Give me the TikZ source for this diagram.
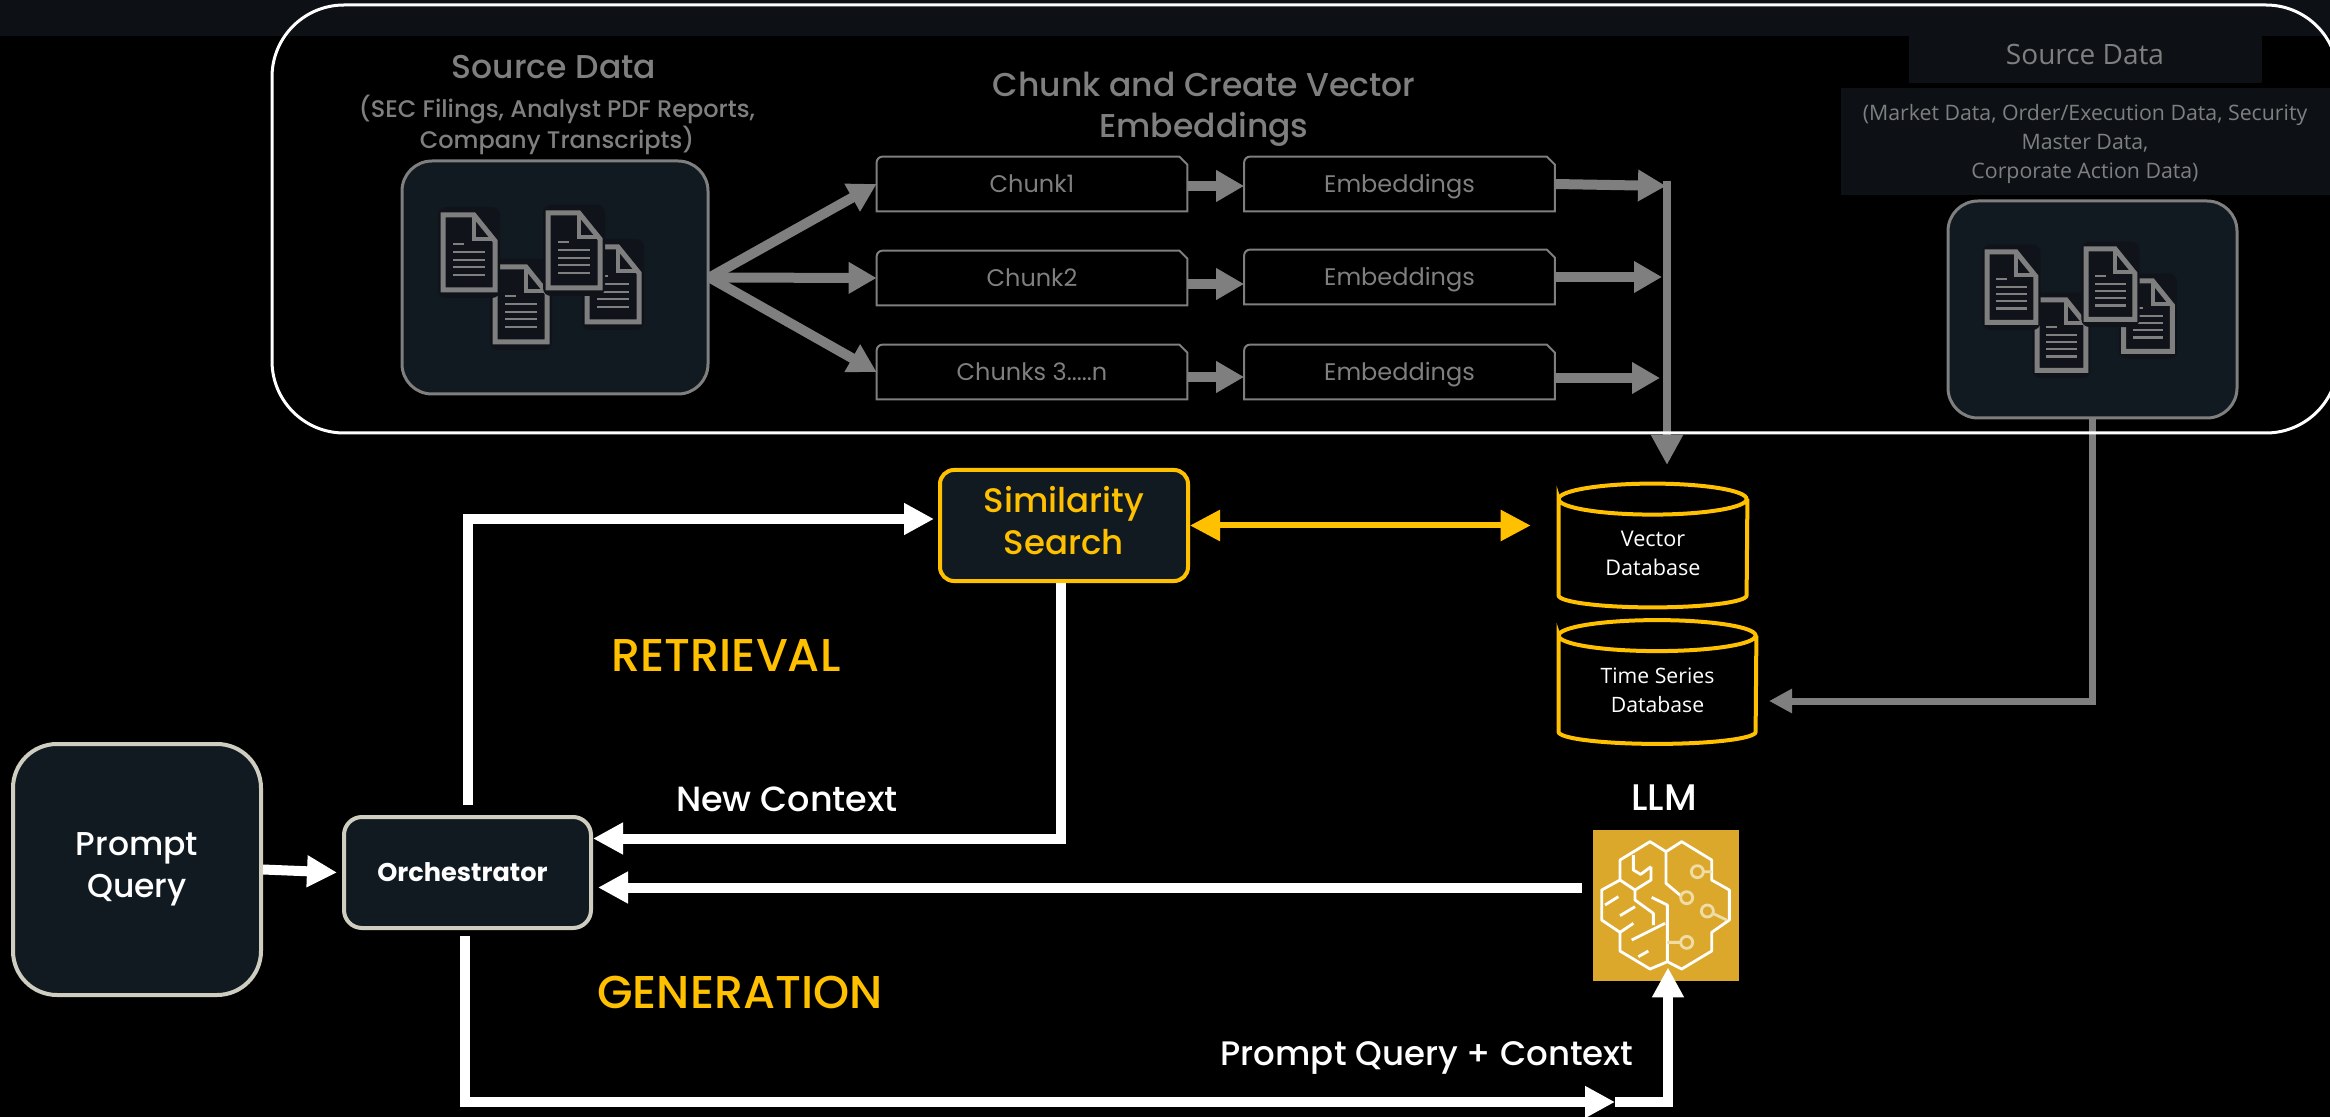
\documentclass[tikz,border=0pt]{standalone}
\usepackage{fontspec}
\setmainfont{Poppins}
\newfontfamily\medfont{Poppins Medium}
\newfontfamily\opensans{Open Sans}
\usetikzlibrary{arrows.meta}
\definecolor{strip}{HTML}{0D1116}
\definecolor{panel}{HTML}{111A21}
\definecolor{backing}{HTML}{10141A}
\definecolor{muted}{HTML}{7F7F7F}
\definecolor{gold}{HTML}{FFC000}
\definecolor{frame}{HTML}{CFCDBF}
\definecolor{brain}{HTML}{DCA82C}
\definecolor{pale}{HTML}{EFDCA6}
\tikzset{%
	softbox/.style   = {draw, rectangle, fill=panel, inner sep=0pt, align=center},
	sourcebox/.style = {softbox, draw=muted, line width=1.5pt},
	userbox/.style   = {softbox, draw=frame, line width=2pt, text=white},
	chunkbox/.style  = {rectangle, minimum width=155pt, minimum height=27pt, inner sep=0pt, text=muted,
		text height=9pt, text depth=0pt, font=\fontsize{12}{15}\selectfont,
		append after command={\pgfextra{
			\draw[muted, line width=1pt] (\tikzlastnode.south west) [rounded corners=3pt] -- (\tikzlastnode.north west)
				[sharp corners] -- ([xshift=-4pt]\tikzlastnode.north east)
				-- ([yshift=-4pt]\tikzlastnode.north east) -- (\tikzlastnode.south east) -- cycle;}}},
	dbase/.style     = {rectangle, minimum width={2*#1}, minimum height=61.5pt, inner sep=0pt,
		append after command={\pgfextra{
			\draw[gold, line width=2pt] ([yshift=-7.75pt]\tikzlastnode.north west) arc[start angle=180, end angle=-180, x radius=#1, y radius=7.75pt]
				-- ([yshift=6pt]\tikzlastnode.south west) arc[start angle=180, end angle=360, x radius=#1, y radius=6pt]
				-- ([yshift=-7.75pt]\tikzlastnode.north east);}}},
	greyarrow/.style = {draw=muted, line width=5pt, -{Triangle[width=15pt,length=14pt]}},
	whitearrow/.style= {draw=white, line width=5pt, -{Triangle[width=15pt,length=15pt]}},
	label/.style     = {align=center, inner sep=0pt},
	docicon/.pic     = {
		\fill[backing, rounded corners=4pt] (-5,-8) rectangle (57,83);
		\draw[muted, line width=2.5pt] (0,0) -- (31,0) -- (52,26) -- (52,75) -- (0,75) -- cycle;
		\draw[muted, line width=2pt] (31,0) -- (31,24) -- (52,24);
		\draw[muted, line width=1.2pt] (10,29) -- (21,29) (10,37) -- (42,37) (10,45) -- (42,45) (10,52) -- (42,52) (10,60) -- (42,60);
	}
}

\begin{document}
\begin{tikzpicture}[x=0.5pt,y=-0.5pt]
	\useasboundingbox (0,0) rectangle (2330,1117);
	\clip (0,0) rectangle (2330,1117);
	\fill[black] (0,0) rectangle (2330,1117);
	\fill[strip] (0,0) rectangle (2330,36);
	\fill[strip] (1909,36) rectangle (2262,83);
	\fill[strip] (1841,88) rectangle (2330,195);

	% top row
	\node[label, text=muted, font=\medfont\fontsize{16.5}{20}\selectfont] (srctitle) at (554,67) {Source Data};
	\node[label, text=muted, font=\medfont\fontsize{12}{13.5}\selectfont] (srctext) at (557,125) {(SEC Filings, Analyst PDF Reports,\\Company Transcripts)};
	\node[label, text=muted, font=\medfont\fontsize{16.5}{20.5}\selectfont] (chunktitle) at (1204,109) {Chunk and Create Vector\\Embeddings};
	\node[label, text=muted, font=\opensans\fontsize{14}{14}\selectfont] (marktitle) at (2085,55) {Source Data};
	\node[label, text=muted, font=\opensans\fontsize{10.65}{14.35}\selectfont] (marktext) at (2085,144) {(Market Data, Order/Execution Data, Security\\Master Data,\\Corporate Action Data)};

	\node[sourcebox, rounded corners=15pt, minimum width=153pt, minimum height=116.5pt] (source) at (555,277.5) {};
	\pic at (587,247) {docicon};
	\pic at (495,267) {docicon};
	\pic at (443,215) {docicon};
	\pic at (548,213) {docicon};

	\node[sourcebox, rounded corners=15pt, minimum width=144.5pt, minimum height=108.5pt] (market) at (2092.5,309.5) {};
	\pic[scale=0.94] at (2123.5,281) {docicon};
	\pic[scale=0.94] at (2037,300) {docicon};
	\pic[scale=0.94] at (1987,252) {docicon};
	\pic[scale=0.94] at (2086,249) {docicon};

	\node[chunkbox] (chunkone) at (1032,184) {Chunk1};
	\node[chunkbox] (chunktwo) at (1032,278) {Chunk2};
	\node[chunkbox] (chunkthree) at (1032,372) {Chunks 3.....n};
	\node[chunkbox] (embedone) at (1399.5,184) {Embeddings};
	\node[chunkbox] (embedtwo) at (1399.5,277) {Embeddings};
	\node[chunkbox] (embedthree) at (1399.5,372) {Embeddings};

	\draw[greyarrow] (source.east) -- (chunkone.west);
	\draw[greyarrow] (source.east) -- (chunktwo.west);
	\draw[greyarrow] (source.east) -- (chunkthree.west);
	\draw[greyarrow] ([yshift=-1pt]chunkone.east) -- ([yshift=-1pt]embedone.west);
	\draw[greyarrow] ([yshift=-3pt]chunktwo.east) -- ([yshift=-3pt]chunktwo.east -| embedtwo.west);
	\draw[greyarrow] ([yshift=-2.5pt]chunkthree.east) -- ([yshift=-2.5pt]embedthree.west);

	\node[dbase=47pt] (vectordb) at (1653,545.5) {};
	\node[dbase=49.25pt] (timedb) at (1657.5,682) {};
	\node[label, text=white, font=\opensans\fontsize{10.8}{14.5}\selectfont] (vectortext) at (1653,553) {Vector\\Database};
	\node[label, text=white, font=\opensans\fontsize{10.6}{14.5}\selectfont] (timetext) at (1657.5,690) {Time Series\\Database};

	% bus into the vector store
	\coordinate (bustop) at (1667,181);
	\coordinate (bustip) at (1667,465);
	\coordinate (timetip) at (1769,701);
	\draw[greyarrow, line width=4pt, -{Triangle[width=15pt,length=15pt]}] (bustop) -- (bustip);
	\draw[greyarrow] (embedone.east) -- (1666,186);
	\draw[greyarrow] (embedtwo.east) -- (1662,277);
	\draw[greyarrow] ([yshift=-3pt]embedthree.east) -- (1660,378);
	\draw[greyarrow, line width=3.5pt, -{Triangle[width=11.5pt,length=11.5pt]}] (market.south) |- (timetip);

	% panel goes over the grey lines
	\node[draw=white, line width=1.5pt, rectangle, rounded corners=36pt, minimum width=1033pt, minimum height=214pt, inner sep=0pt] (frame) at (1305,219) {};

	% lower part
	\node[userbox, rounded corners=22pt, minimum width=124pt, minimum height=125.5pt, font=\medfont\fontsize{16.5}{21}\selectfont] (prompt) at (137,869.5) {Prompt\\Query};
	\node[userbox, rounded corners=9pt, minimum width=123.5pt, minimum height=55.5pt, font=\fontsize{12.8}{16}\selectfont\bfseries] (orch) at (467.5,872.5) {\hspace*{-5pt}Orchestrator};
	\node[softbox, draw=gold, line width=2pt, rounded corners=7pt, minimum width=124pt, minimum height=55.5pt] (simsearch) at (1064,525.5) {};
	\node[label, text=gold, font=\medfont\fontsize{17}{21}\selectfont] (simtext) at (1064,521) {Similarity\\Search};

	\node[label, text=gold, font=\medfont\fontsize{23}{26}\selectfont] (retrieval) at (726,655) {RETRIEVAL};
	\node[label, text=gold, font=\medfont\fontsize{23}{26}\selectfont] (generation) at (740,992) {GENERATION};
	\node[label, text=white, font=\medfont\fontsize{17.5}{20}\selectfont] (newctx) at (787,799) {New Context};
	\node[label, text=white, font=\medfont\fontsize{17}{20}\selectfont] (promptctx) at (1427,1058) {Prompt Query + Context};
	\node[label, text=white, font=\medfont\fontsize{18.5}{20}\selectfont] (llmtext) at (1664,798) {LLM};

	\node[rectangle, fill=brain, minimum width=73pt, minimum height=75.5pt, inner sep=0pt] (llm) at (1666,905.5) {};
	\begin{scope}[shift={(1590,825)}, x=0.1667pt, y=-0.1667pt]
		\draw[white, line width=1.4pt, line join=round]
			(232,410) -- (180,432) -- (90,378) -- (90,322) -- (35,285) -- (35,195) -- (90,165) -- (90,105) -- (180,50) -- (228,80)
			-- (275,50) -- (365,105) -- (365,165) -- (418,195) -- (418,285) -- (365,322) -- (365,378) -- (275,432) -- cycle
			(228,80) -- (228,175) -- (272,212)
			(232,410) -- (232,240) -- (185,217)
			(130,90) -- (130,135) -- (152,148) -- (183,125)
			(183,125) -- (183,165) -- (135,195) -- (90,165)
			(135,195) -- (135,225) -- (190,265) -- (190,300)
			(45,240) -- (85,215)
			(90,272) -- (135,245)
			(90,322) -- (130,295)
			(125,345) -- (225,295)
			(145,395) -- (175,378);
		\draw[pale, line width=1.4pt]
			(290,218) circle (18) (322,140) circle (18) (352,258) circle (18) (290,352) circle (18)
			(232,352) -- (272,352) (340,140) -- (365,140) (370,266) -- (410,285);
	\end{scope}

	\draw[whitearrow] (prompt.east) -- ([xshift=-2.5pt]orch.west);
	\draw[whitearrow, shorten <=5pt, shorten >=2pt] (orch.north) |- ([yshift=3.25pt]simsearch.west);
	\draw[whitearrow] ([xshift=-1.75pt]simsearch.south) |- ([yshift=17pt]orch.east);
	\draw[whitearrow, shorten <=5.5pt, shorten >=2.5pt] ([yshift=9pt]llm.west) -- ([yshift=9pt]llm.west -| orch.east);
	\coordinate (midtip) at (1615,1102);
	\draw[whitearrow, shorten <=3pt] ([xshift=-1.5pt]orch.south) |- (midtip);
	\draw[whitearrow] (midtip) -| ([xshift=1pt,yshift=7pt]llm.south);
	\draw[draw=gold, line width=3pt, {Triangle[width=15pt,length=15pt]}-{Triangle[width=15pt,length=15pt]}, shorten >=14pt] (simsearch.east) -- (simsearch.east -| vectordb.west);
\end{tikzpicture}
\end{document}
